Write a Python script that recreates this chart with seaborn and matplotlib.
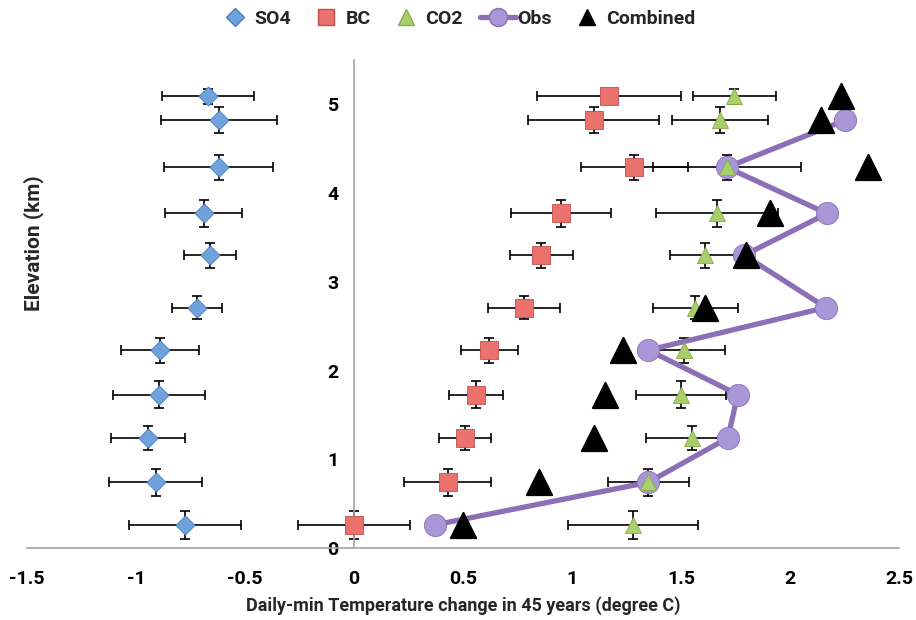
import numpy as np
import pandas as pd
import matplotlib.pyplot as plt
import seaborn as sns
from matplotlib.lines import Line2D

# elevation of each level (km) and its vertical uncertainty
elev = [0.26, 0.74, 1.24, 1.73, 2.23, 2.71, 3.30, 3.77, 4.29, 4.82, 5.09]
elev_err = [0.16, 0.15, 0.13, 0.15, 0.14, 0.13, 0.14, 0.15, 0.14, 0.145, 0.085]

# model contributions (degree C) with half-width of the error bars
so4 = [-0.775, -0.91, -0.945, -0.895, -0.89, -0.72, -0.66, -0.69, -0.62, -0.62, -0.67]
so4_err = [0.255, 0.215, 0.17, 0.21, 0.18, 0.115, 0.12, 0.175, 0.25, 0.265, 0.21]
bc = [0.0, 0.43, 0.51, 0.56, 0.62, 0.78, 0.86, 0.95, 1.285, 1.10, 1.17]
bc_err = [0.255, 0.20, 0.12, 0.125, 0.13, 0.165, 0.145, 0.23, 0.245, 0.30, 0.33]
co2 = [1.28, 1.35, 1.55, 1.50, 1.515, 1.565, 1.61, 1.665, 1.71, 1.68, 1.745]
co2_err = [0.30, 0.185, 0.21, 0.205, 0.185, 0.195, 0.16, 0.28, 0.34, 0.22, 0.19]

# observations (no top level) and combined model
obs_elev = elev[:10]
obs = [0.37, 1.35, 1.715, 1.76, 1.35, 2.165, 1.79, 2.17, 1.71, 2.25]
combined = [0.50, 0.85, 1.10, 1.15, 1.235, 1.61, 1.80, 1.91, 2.36, 2.14, 2.235]

so4_col, so4_edge = '#6fa1dc', '#4a7ebb'
bc_col, bc_edge = '#ea716c', '#c0504d'
co2_col, co2_edge = '#a9cf6b', '#8aaa50'
obs_line, obs_face = '#8c6fb6', '#a896d6'

sns.set_style('white')
plt.rcParams['font.family'] = ['Roboto', 'DejaVu Sans']
plt.rcParams['font.weight'] = 'bold'

df = pd.DataFrame({'elev': elev, 'SO4': so4, 'BC': bc, 'CO2': co2, 'Combined': combined})
df_obs = pd.DataFrame({'elev': obs_elev, 'Obs': obs})

fig = plt.figure(figsize=(9.16, 6.2), dpi=100)
ax = fig.add_axes([27 / 916, 1 - 548 / 620, 872 / 916, 488 / 620])

# error bars
for vals, errs in [(so4, so4_err), (bc, bc_err), (co2, co2_err)]:
    ax.errorbar(vals, elev, xerr=errs, yerr=elev_err, fmt='none', ecolor='black',
                elinewidth=1.2, capsize=3.5, capthick=1.2, zorder=2)

sns.scatterplot(data=df, x='SO4', y='elev', marker='D', s=95, color=so4_col,
                edgecolor=so4_edge, linewidth=0.6, ax=ax, zorder=3)
sns.scatterplot(data=df, x='BC', y='elev', marker='s', s=155, color=bc_col,
                edgecolor=bc_edge, linewidth=0.6, ax=ax, zorder=3)
sns.lineplot(data=df_obs, x='Obs', y='elev', sort=False, estimator=None, color=obs_line,
             linewidth=3.8, marker='o', markersize=16, markerfacecolor=obs_face,
             markeredgecolor=obs_line, markeredgewidth=0.6, ax=ax, zorder=3)
sns.scatterplot(data=df, x='CO2', y='elev', marker='^', s=135, color=co2_col,
                edgecolor=co2_edge, linewidth=0.6, ax=ax, zorder=4)
sns.scatterplot(data=df, x='Combined', y='elev', marker='^', s=330, color='black',
                edgecolor='black', ax=ax, zorder=5)

ax.set_xlim(-1.5, 2.5)
ax.set_ylim(0, 5.5)
ax.set_xticks(np.arange(-1.5, 2.51, 0.5))
ax.set_xticklabels(['-1.5', '-1', '-0.5', '0', '0.5', '1', '1.5', '2', '2.5'])
ax.set_yticks(range(6))

for s in ['top', 'right']:
    ax.spines[s].set_visible(False)
ax.spines['left'].set_position(('data', 0))
for s in ['left', 'bottom']:
    ax.spines[s].set_color('#a6a6a6')
    ax.spines[s].set_linewidth(1.2)
ax.tick_params(axis='both', direction='out', length=5, width=1.2, color='#a6a6a6',
               labelsize=14, labelcolor='black')
ax.tick_params(axis='x', pad=11)
ax.tick_params(axis='y', pad=6)

ax.set_xlabel('Daily-min Temperature change in 45 years (degree C)', fontsize=13,
              fontweight='bold', labelpad=6)
ax.set_ylabel('Elevation (km)', fontsize=15, fontweight='bold')
ax.yaxis.set_label_coords(0.02, 0.625)

handles = [
    Line2D([], [], ls='none', marker='D', ms=9, mfc=so4_col, mec=so4_edge),
    Line2D([], [], ls='none', marker='s', ms=12, mfc=bc_col, mec=bc_edge),
    Line2D([], [], ls='none', marker='^', ms=12, mfc=co2_col, mec=co2_edge),
    Line2D([], [], color=obs_line, lw=3.8, marker='o', ms=13, mfc=obs_face, mec=obs_line),
    Line2D([], [], ls='none', marker='^', ms=12, color='black'),
]
fig.legend(handles, ['SO4', 'BC', 'CO2', 'Obs', 'Combined'], loc='upper center',
           bbox_to_anchor=(0.498, 1.012), ncol=5, frameon=False, handlelength=1.85,
           columnspacing=0.9, handletextpad=0.05, prop={'size': 14, 'weight': 'bold'})

plt.savefig('out.png', dpi=100)
